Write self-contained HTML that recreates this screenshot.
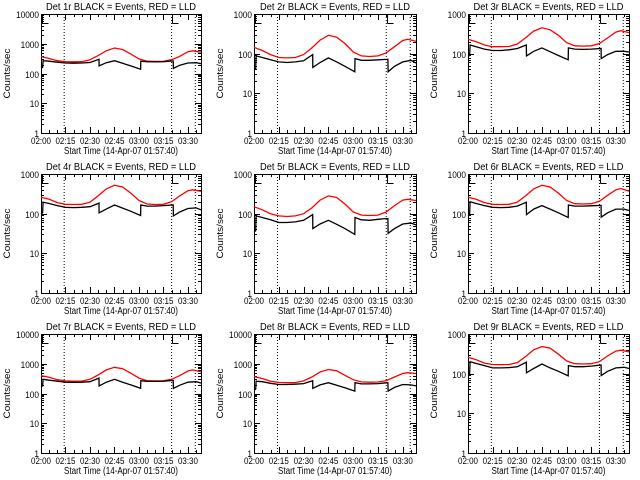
<!DOCTYPE html>
<html><head><meta charset="utf-8"><style>
html,body{margin:0;padding:0;background:#fff;}
svg{display:block;font-family:"Liberation Sans",sans-serif;}
</style></head><body>
<svg id="chart" width="640" height="480" viewBox="0 0 640 480" xmlns="http://www.w3.org/2000/svg">
<rect x="0" y="0" width="640" height="480" fill="#fff"/>
</svg>
<script>
// ---- data ----
const detectorNames = ["1r","2r","3r","4r","5r","6r","7r","8r","9r"];
const decadeCounts = [4,3,3,3,3,3,4,4,3];
const xTickLabels = ["02:00","02:15","02:30","02:45","03:00","03:15","03:30"];
const xTickMinutes = [0,15,30,45,60,75,90];
const dottedMinutes = [14.2,80,94.5];
const markerMinutes = [0.5,80.5];
const redMinutes = [0,5,10,15,20,25,30,35,40,45,50,55,60,65,70,75,80,85,90,93,98];
const blackMinutes = [0,1,1.3,5,10,15,20,25,30,35.5,35.6,40,45,50,55,61,61.1,65,70,75,81,81.1,85,90,95,98];
const red1 = [370,320,270,250,248,250,290,400,580,720,640,450,310,260,255,258,290,380,540,580,520];
const red2 = [145,120,95,80,78,80,95,140,220,290,260,180,110,88,85,88,105,150,215,230,205];
const red3 = [230,200,165,150,150,152,175,250,370,450,400,290,190,158,155,158,180,250,350,380,340];
const red4 = [260,230,190,172,170,172,195,280,420,520,470,330,215,175,170,172,200,280,380,400,365];
const red5 = [150,125,100,88,85,88,100,140,220,280,255,175,110,92,90,92,110,160,220,230,215];
const red6 = [260,230,190,172,170,172,195,280,420,520,470,330,215,178,175,178,205,290,400,430,370];
const red7 = [400,350,290,265,260,262,300,420,620,760,680,480,330,270,265,268,300,400,570,620,540];
const red8 = [370,320,260,235,230,232,265,360,530,640,580,410,290,245,240,243,270,360,470,500,470];
const red9 = [260,225,185,170,168,170,190,270,400,480,440,310,210,178,175,178,200,280,370,390,355];
const black1 = [150,160,270,260,240,225,222,225,235,300,180,230,270,220,180,140,260,250,248,250,265,150,190,225,230,215];
const black2 = [40,42,88,80,70,62,60,62,66,95,45,60,78,62,48,35,75,68,68,70,72,35,48,62,68,58];
const black3 = [85,90,165,150,130,120,120,125,135,165,88,115,140,112,90,70,140,130,128,130,135,75,95,115,115,110];
const black4 = [100,105,195,180,160,145,142,145,150,185,105,130,165,138,115,90,165,155,155,160,165,88,110,135,140,125];
const black5 = [35,37,88,80,70,60,60,62,68,95,42,55,68,54,42,30,80,70,68,72,76,32,42,55,58,52];
const black6 = [90,95,200,180,160,145,142,145,155,195,95,130,160,130,105,80,165,155,155,158,162,82,105,130,130,120];
const black7 = [170,180,300,280,260,240,238,240,250,330,180,240,300,240,195,150,270,255,255,260,275,150,190,240,250,225];
const black8 = [130,140,260,250,220,200,200,205,215,270,150,195,230,190,155,120,230,210,210,215,230,120,160,200,195,180];
const black9 = [95,100,200,180,160,140,140,142,150,195,105,135,175,140,115,88,160,150,150,155,165,90,115,140,145,135];
const redSeries = [red1,red2,red3,red4,red5,red6,red7,red8,red9];
const blackSeries = [black1,black2,black3,black4,black5,black6,black7,black8,black9];

// ---- layout ----
const colLeft = [41,254,468], colRight = [201,416,629];
const rowTop = [14,174,334], rowBottom = [133,293,453];
const xMax = 98;
const NS = "http://www.w3.org/2000/svg";
const svg = document.getElementById("chart");
function mk(tag, attrs, parent){
  const e = document.createElementNS(NS, tag);
  for (const k in attrs) e.setAttribute(k, attrs[k]);
  (parent||svg).appendChild(e);
  return e;
}

for (let p = 0; p < 9; p++) {
  const L = colLeft[p%3], R = colRight[p%3], T = rowTop[Math.floor(p/3)], B = rowBottom[Math.floor(p/3)];
  const dec = decadeCounts[p];
  const xs = m => L + (R-L)*m/xMax;
  const ys = v => B - (B-T)*Math.log10(v)/dec;
  const g = mk("g", {});
  
  

  const title = mk("text", {x:(L+R)/2, y:T-4, "font-size":10, "text-anchor":"middle", textLength:150, lengthAdjust:"spacingAndGlyphs"}, g);
  title.textContent = "Det " + detectorNames[p] + " BLACK = Events, RED = LLD";
  
  

  dottedMinutes.forEach(m => {
    const l = mk("line", {x1:xs(m), x2:xs(m), y1:T, y2:B, stroke:"#000", "stroke-width":1, "stroke-dasharray":"1,2"}, g);
    
    
  });
  markerMinutes.forEach(m => {
    const x = Math.round(xs(m))+0.5, y = T+0.5;
    const pth = mk("path", {d:`M${x},${y} L${x},${y+9} M${x},${y} L${x+6},${y} M${x},${y+9} L${x+6},${y+9}`, stroke:"#000", fill:"none", "stroke-width":1}, g);
    
    
  });

  const box = mk("rect", {x:L+0.5, y:T+0.5, width:R-L, height:B-T, fill:"none", stroke:"#000", "stroke-width":1}, g);
  
  

  for (let d = 0; d <= dec; d++) {
    const y = Math.round(ys(Math.pow(10,d)))+0.5;
    mk("line", {x1:L, x2:L+6, y1:y, y2:y, stroke:"#000"}, g);
    mk("line", {x1:R-6, x2:R, y1:y, y2:y, stroke:"#000"}, g);
    const lab = String(Math.pow(10,d));
    const t = mk("text", {x:L-2, y:y+3.5, "font-size":9, "text-anchor":"end", textLength:lab.length*4.6, lengthAdjust:"spacingAndGlyphs"}, g);
    t.textContent = lab;
    
    
    if (d < dec) for (let k = 2; k <= 9; k++) {
      const ym = Math.round(ys(k*Math.pow(10,d)))+0.5;
      mk("line", {x1:L, x2:L+3, y1:ym, y2:ym, stroke:"#000"}, g);
      mk("line", {x1:R-3, x2:R, y1:ym, y2:ym, stroke:"#000"}, g);
    }
  }
  for (let m = 0; m <= xMax; m += 5) {
    const x = Math.round(xs(m))+0.5;
    const len = (m % 15 === 0) ? 6 : 3;
    mk("line", {x1:x, x2:x, y1:B, y2:B-len, stroke:"#000"}, g);
    mk("line", {x1:x, x2:x, y1:T, y2:T+len, stroke:"#000"}, g);
  }
  xTickMinutes.forEach((m,i) => {
    const t = mk("text", {x:xs(m), y:B+11, "font-size":9, "text-anchor":"middle", textLength:20, lengthAdjust:"spacingAndGlyphs"}, g);
    t.textContent = xTickLabels[i];
    
    
  });
  const xt = mk("text", {x:(L+R)/2, y:B+21, "font-size":10, "text-anchor":"middle", textLength:114, lengthAdjust:"spacingAndGlyphs"}, g);
  xt.textContent = "Start Time (14-Apr-07 01:57:40)";
  
  
  const yx = L-31, yy = (T+B)/2;
  const yt = mk("text", {x:yx, y:yy, "font-size":9, "text-anchor":"middle", transform:`rotate(-90 ${yx} ${yy})`, textLength:50, lengthAdjust:"spacingAndGlyphs"}, g);
  yt.textContent = "Counts/sec";
  
  

  const rd = redSeries[p].map((v,i) => (i?"L":"M") + xs(redMinutes[i]).toFixed(1) + "," + ys(v).toFixed(1)).join(" ");
  const rp = mk("path", {d:rd, fill:"none", stroke:"#ff0000", "stroke-width":1.3}, g);
  
  
  const bd = blackSeries[p].map((v,i) => (i?"L":"M") + xs(blackMinutes[i]).toFixed(1) + "," + ys(v).toFixed(1)).join(" ");
  const bp = mk("path", {d:bd, fill:"none", stroke:"#000", "stroke-width":1.3}, g);
  
  
}
</script>
</body></html>
